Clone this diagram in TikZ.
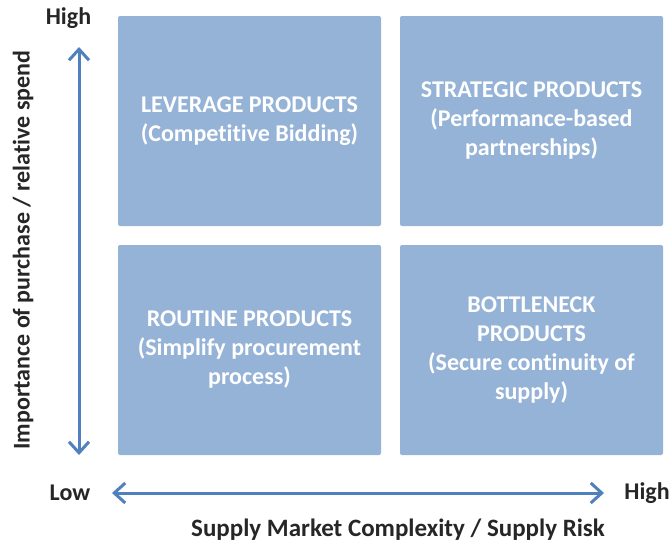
\documentclass[tikz,border=0pt]{standalone}
\usepackage{fontspec}
\setmainfont{Carlito}[Ligatures=CommonOff]
\usetikzlibrary{positioning}
\usetikzlibrary{arrows.meta}
\definecolor{quadfill}{HTML}{95B3D7}
\definecolor{axisblue}{HTML}{4F81BD}
\definecolor{labelgray}{HTML}{262626}
\tikzset{
    quadrant/.style = {fill=quadfill, rounded corners=2pt, text=white,
                       font=\bfseries\fontsize{24}{29}\selectfont, align=center,
                       minimum width=263pt, minimum height=210pt,
                       inner sep=0pt, outer sep=0pt
    },
    axis arrow/.style = {draw=axisblue, line width=3pt,
                         {Straight Barb[length=11pt, width=20pt]}-{Straight Barb[length=11pt, width=20pt]}
    },
    axis text/.style = {font=\bfseries\fontsize{24}{29}\selectfont, text=labelgray,
                        inner sep=0pt
    },
}

\begin{document}
\begin{tikzpicture}[x=1pt, y=-1pt]
    \useasboundingbox (0,0) rectangle (672,546);
    \node (lev) [quadrant] at (249.5,121) {LEVERAGE PRODUCTS\\(Competitive Bidding)};
    \node (str) [quadrant, right=19pt of lev] {STRATEGIC PRODUCTS\\(Performance-based\\partnerships)};
    \node (rou) [quadrant, below=19pt of lev] {ROUTINE PRODUCTS\\(Simplify procurement\\process)};
    \node (bot) [quadrant, right=19pt of rou] {BOTTLENECK\\PRODUCTS\\(Secure continuity of\\supply)};
    % axes
    \coordinate (ytop) at (79,47);
    \coordinate (ybot) at (79,455);
    \coordinate (xleft) at (112,493);
    \coordinate (xright) at (604,493);
    \draw [axis arrow] (ybot) -- (ytop);
    \draw [axis arrow] (xleft) -- (xright);
    \node (yhigh) [axis text] at (68.5,18) {High};
    \node (xlow) [axis text] at (70,493) {Low};
    \node (xhigh) [axis text] at (647,493) {High};
    \node (xtitle) [axis text, font=\bfseries\fontsize{25}{29}\selectfont] at (398,530) {Supply Market Complexity / Supply Risk};
    \node (ytitle) [axis text, rotate=90] at (23,250) {Importance of purchase / relative spend};
\end{tikzpicture}
\end{document}
